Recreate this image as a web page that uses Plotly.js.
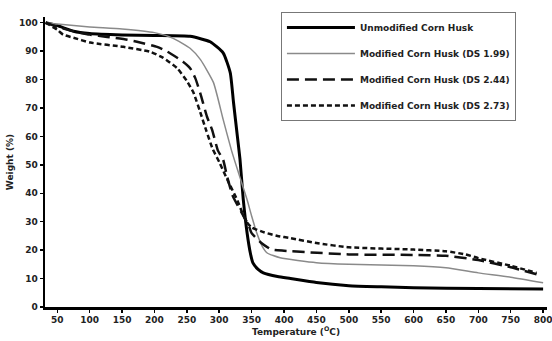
<!DOCTYPE html>
<html><head><meta charset="utf-8">
<script src="https://cdn.plot.ly/plotly-3.0.1.min.js"></script>
<style>html,body{margin:0;padding:0;background:#fff}#c{width:552px;height:341px}</style>
</head><body><div id="c"></div>
<script>
const seriesNames = ["Unmodified Corn Husk","Modified Corn Husk (DS 1.99)","Modified Corn Husk (DS 2.44)","Modified Corn Husk (DS 2.73)"];

const tUnmod = [32,50,75,100,150,200,255,286,306,317,322,328,332,337,343,348,352,360,368,390,410,450,500,550,600,700,800];
const wUnmod = [100,99,97,96.2,95.7,95.5,95.2,93.3,89.4,82.4,72,60,52,38,26,19,15.5,13.2,12,10.7,10,8.6,7.5,7.1,6.8,6.5,6.3];

const tDS199 = [32,50,100,150,200,229,255,271,291,306,319,330,343,350,358,366,374,394,450,500,600,650,700,750,800];
const wDS199 = [100,99.5,98.5,97.8,96.5,94.5,91,87,79,66,55,47,37.7,32,26,21.5,19,17.3,15.6,15,14.5,13.8,12,10.5,8.5];

const tDS244 = [32,50,75,100,127,158,173,204,220,244,255,263,271,281,289,298,306,312,321,335,345,350,365,380,400,500,600,650,700,750,790];
const wDS244 = [100,98.5,97,95.8,95,94,93.3,91.5,89.8,86.3,84,80.5,75,67,62.3,55,51.8,46,39,33,29,26,22.5,20.3,19.8,18.5,18.3,18,16.5,14,11.5];

const tDS273 = [32,50,59,75,101,152,193,213,235,250,260,270,280,290,300,312,328,335,342,350,370,390,410,450,500,600,650,680,700,750,790];
const wDS273 = [100,97.5,95.8,94.7,93,91.5,89.8,87.7,84,79.5,75.5,69,62,55.5,51,45,37.5,33.5,30,28,26.2,25,24.2,22.5,21,20.2,19.6,18.5,17.2,14.5,12];

const xTicks = [50,100,150,200,250,300,350,400,450,500,550,600,650,700,750,800];
const yTicks = [0,10,20,30,40,50,60,70,80,90,100];

const FONT = "DejaVu Sans";
const styles = [
  {color:"#000", width:3, dash:"solid"},
  {color:"#8a8a8a", width:1.5, dash:"solid"},
  {color:"#111", width:2.5, dash:"12px,6px"},
  {color:"#111", width:2.5, dash:"5px,3px"}
];
const xs = [tUnmod,tDS199,tDS244,tDS273];
const ys = [wUnmod,wDS199,wDS244,wDS273];
const data = seriesNames.map((n,i)=>({
  x: xs[i], y: ys[i], name: n, type:"scatter", mode:"lines",
  line: Object.assign({shape:"spline", smoothing:0.5}, styles[i]),
  legendgroup: "g"+i
}));

const layout = {
  width:552, height:341,
  margin:{l:45, r:5, t:17, b:34, pad:0},
  paper_bgcolor:"#fff", plot_bgcolor:"#fff",
  font:{family:FONT, size:9, color:"#222"},
  showlegend:true,
  legend:{x:0.47, y:1.017, xanchor:"left", yanchor:"top", bgcolor:"#fff",
    bordercolor:"#777", borderwidth:1, font:{family:FONT, size:9, color:"#222", weight:"bold"},
    tracegroupgap:7, itemwidth:68},
  xaxis:{range:[31,806], tickvals:xTicks, ticktext:xTicks.map(String), ticks:"outside", ticklen:3,
    tickwidth:1.5, tickcolor:"#000", showline:true, linecolor:"#000", linewidth:2.5, showgrid:false, zeroline:false,
    ticklabeloverflow:"allow",
    tickfont:{family:FONT, size:9, weight:"bold"},
    title:{text:"Temperature (<sup>O</sup>C)", font:{family:FONT, size:9, weight:"bold"}, standoff:0}},
  yaxis:{range:[0,102], tickvals:yTicks, ticks:"outside", ticklen:3, tickwidth:1.5, tickcolor:"#000",
    showline:true, linecolor:"#000", linewidth:2.5, showgrid:false, zeroline:false,
    tickfont:{family:FONT, size:9, weight:"bold"},
    title:{text:"Weight (%)", font:{family:FONT, size:9, weight:"bold"}, standoff:4}}
};
Plotly.newPlot("c", data, layout, {staticPlot:true, displayModeBar:false});
</script></body></html>
